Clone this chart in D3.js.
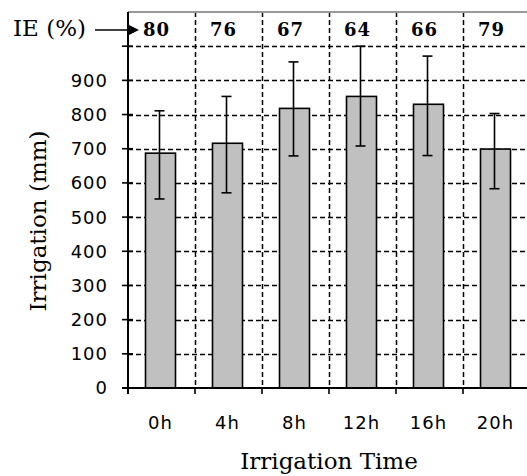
<!DOCTYPE html>
<html>
<head>
<meta charset="utf-8">
<script src="https://cdn.jsdelivr.net/npm/d3@7"></script>
<style>
  html, body { margin: 0; padding: 0; background: #fff; }
  svg { display: block; }
</style>
</head>
<body>
<div id="chart"></div>
<script>
// ── 資料 ────────────────────────────────────────────
const categories = ["0h", "4h", "8h", "12h", "16h", "20h"];
const irrigation = [687, 716, 818, 853, 830, 699];   // mm
const errHigh    = [811, 853, 954, 1000, 971, 803];
const errLow     = [553, 571, 679, 708, 680, 583];
const ieValues   = [80, 76, 67, 64, 66, 79];          // IE (%)
const yTicks     = [0, 100, 200, 300, 400, 500, 600, 700, 800, 900, 1000];

const W = 527, H = 476;
const PLOT_L = 128, PLOT_R = 530, PLOT_T = 12, PLOT_B = 388;
const BAR_W = 30;
const SANS  = "'DejaVu Sans', Verdana, sans-serif";
const SERIF = "'DejaVu Serif', 'Liberation Serif', serif";

const svg = d3.select("#chart").append("svg")
  .attr("width", W).attr("height", H);

const x = d3.scaleBand().domain(categories).range([PLOT_L, PLOT_R]).padding(0);
const y = d3.scaleLinear().domain([0, 1100]).range([PLOT_B, PLOT_T]);

// ── 格線（虛線）──
const grid = svg.append("g");
yTicks.filter(v => v > 0).forEach(v => {
  grid.append("line")
    .attr("x1", PLOT_L).attr("x2", W)
    .attr("y1", Math.round(y(v)) + 0.5).attr("y2", Math.round(y(v)) + 0.5)
    .attr("stroke", "#000").attr("stroke-width", 1.5)
    .attr("stroke-dasharray", "5,3");
});
categories.slice(1).forEach(c => {
  const xx = Math.round(x(c)) + 0.5;
  grid.append("line")
    .attr("x1", xx).attr("x2", xx)
    .attr("y1", PLOT_T).attr("y2", PLOT_B)
    .attr("stroke", "#000").attr("stroke-width", 1.5)
    .attr("stroke-dasharray", "5,3");
});

// 上框（灰）
svg.append("line")
  .attr("x1", PLOT_L).attr("x2", W)
  .attr("y1", PLOT_T).attr("y2", PLOT_T)
  .attr("stroke", "#999").attr("stroke-width", 2);

// ── 長條 ──
const bars = svg.append("g");
categories.forEach((c, i) => {
  const cx = x(c) + x.bandwidth() / 2;
  bars.append("rect")
    .attr("x", cx - BAR_W / 2 - 1).attr("y", y(irrigation[i]))
    .attr("width", BAR_W).attr("height", PLOT_B - y(irrigation[i]))
    .attr("fill", "#c0c0c0")
    .attr("stroke", "#000").attr("stroke-width", 1.6);
});

// ── 誤差線 ──
const errG = svg.append("g").attr("stroke", "#000").attr("stroke-width", 1.6);
categories.forEach((c, i) => {
  const cx = x(c) + x.bandwidth() / 2 - 2;
  errG.append("line").attr("x1", cx).attr("x2", cx)
    .attr("y1", y(errHigh[i])).attr("y2", y(errLow[i]));
  errG.append("line").attr("x1", cx - 5).attr("x2", cx + 5)
    .attr("y1", y(errHigh[i])).attr("y2", y(errHigh[i]));
  errG.append("line").attr("x1", cx - 5).attr("x2", cx + 5)
    .attr("y1", y(errLow[i])).attr("y2", y(errLow[i]));
});

// ── 座標軸 ──
const axG = svg.append("g").attr("stroke", "#000");
axG.append("line")
  .attr("x1", PLOT_L).attr("x2", PLOT_L)
  .attr("y1", PLOT_T).attr("y2", PLOT_B + 6)
  .attr("stroke-width", 2);
axG.append("line")
  .attr("x1", PLOT_L - 6).attr("x2", W)
  .attr("y1", PLOT_B).attr("y2", PLOT_B)
  .attr("stroke-width", 2);
yTicks.forEach(v => {
  axG.append("line")
    .attr("x1", PLOT_L - 6).attr("x2", PLOT_L + 5)
    .attr("y1", y(v)).attr("y2", y(v))
    .attr("stroke-width", 1.6);
});
categories.slice(1).forEach(c => {
  axG.append("line")
    .attr("x1", x(c)).attr("x2", x(c))
    .attr("y1", PLOT_B).attr("y2", PLOT_B + 6)
    .attr("stroke-width", 1.6);
});

// 刻度文字
const tickTxt = svg.append("g")
  .attr("font-family", SANS).attr("font-size", 18)
  .attr("letter-spacing", "1px").attr("fill", "#000");
yTicks.filter(v => v <= 900).forEach(v => {
  tickTxt.append("text")
    .attr("x", 108).attr("y", y(v)).attr("dy", "0.36em")
    .attr("text-anchor", "end")
    .text(v);
});
categories.forEach(c => {
  tickTxt.append("text")
    .attr("x", x(c) + x.bandwidth() / 2 - 1).attr("y", 429)
    .attr("text-anchor", "middle")
    .text(c);
});

// ── IE (%) 列 ──
svg.append("text")
  .attr("x", 13).attr("y", 36)
  .attr("font-family", SERIF).attr("font-size", 23)
  .text("IE (%)");
svg.append("line")
  .attr("x1", 95).attr("x2", 130)
  .attr("y1", 30).attr("y2", 30)
  .attr("stroke", "#000").attr("stroke-width", 1.6);
svg.append("path")
  .attr("d", "M129,25L139,30L129,35Z")
  .attr("fill", "#000");
const ieG = svg.append("g")
  .attr("font-family", SERIF).attr("font-size", 18)
  .attr("font-weight", "bold").attr("letter-spacing", "1px");
categories.forEach((c, i) => {
  ieG.append("text")
    .attr("x", x(c) + x.bandwidth() / 2 - 5).attr("y", 36)
    .attr("text-anchor", "middle")
    .text(ieValues[i]);
});

// ── 軸標題 ──
svg.append("text")
  .attr("transform", "translate(46,221) rotate(-90)")
  .attr("text-anchor", "middle")
  .attr("font-family", SERIF).attr("font-size", 23)
  .text("Irrigation (mm)");
svg.append("text")
  .attr("x", 329).attr("y", 469)
  .attr("text-anchor", "middle")
  .attr("font-family", SERIF).attr("font-size", 23)
  .text("Irrigation Time");
</script>
</body>
</html>
